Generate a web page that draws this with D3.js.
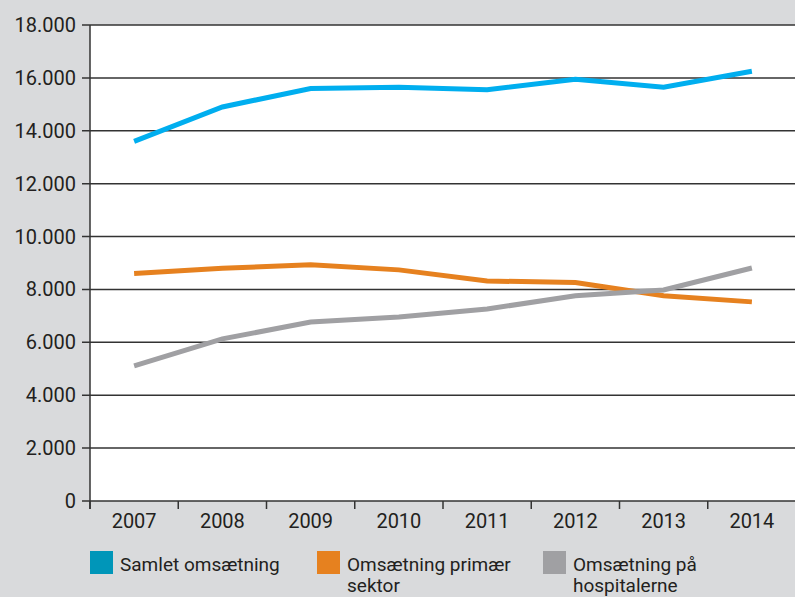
<!DOCTYPE html>
<html><head><meta charset="utf-8">
<script src="https://cdn.jsdelivr.net/npm/d3@7"></script>
<style>body{margin:0;background:#d9dadc;}svg{display:block;font-family:Roboto,"Noto Sans",sans-serif;}</style>
</head><body>
<svg id="c" width="795" height="597"></svg>
<script>
const years = ["2007","2008","2009","2010","2011","2012","2013","2014"];
const samlet = [13600,14900,15600,15650,15550,15950,15650,16250];
const primaer = [8600,8800,8930,8740,8320,8260,7760,7530];
const hospital = [5110,6130,6770,6960,7260,7760,7980,8810];
const yTicks = [0,2000,4000,6000,8000,10000,12000,14000,16000,18000];
const seriesNames = ["Samlet omsætning","Omsætning primær sektor","Omsætning på hospitalerne"];
const lineColors = ["#00aeef","#e6811f","#a0a0a3"];
const legendColors = ["#0096b9","#e6811f","#a0a0a3"];

const svg = d3.select("#c");
const L=90,R=796,T=25,B=501;
svg.append("rect").attr("x",L).attr("y",T).attr("width",R-L).attr("height",B-T).attr("fill","#fff");
const x = d3.scaleBand().domain(years).range([L,R]);
const y = d3.scaleLinear().domain([0,18000]).range([B,T]);
const fmt = v => d3.format(",")(v).replace(/,/g,".");

// gridlines + y ticks
svg.append("g").selectAll("line").data(yTicks).join("line")
  .attr("x1",L-8).attr("x2",R).attr("y1",d=>y(d)).attr("y2",d=>y(d))
  .attr("stroke","#333").attr("stroke-width",1.5);
svg.append("g").selectAll("text").data(yTicks).join("text")
  .attr("x",L-14).attr("y",d=>y(d)+7).attr("text-anchor","end")
  .attr("font-size",20).attr("fill","#231f20").text(fmt);
// y axis line
svg.append("line").attr("x1",L).attr("x2",L).attr("y1",T).attr("y2",B+8).attr("stroke","#333").attr("stroke-width",1.5);
// x ticks at band boundaries
const bounds = years.map(d=>x(d)).concat([R]);
svg.append("g").selectAll("line").data(bounds).join("line")
  .attr("x1",d=>d).attr("x2",d=>d).attr("y1",B).attr("y2",B+8)
  .attr("stroke","#333").attr("stroke-width",1.5);
svg.append("g").selectAll("text").data(years).join("text")
  .attr("x",d=>x(d)+x.bandwidth()/2).attr("y",B+27).attr("text-anchor","middle")
  .attr("font-size",20).attr("fill","#231f20").text(d=>d);

const line = d3.line().x((d,i)=>x(years[i])+x.bandwidth()/2).y(d=>y(d));
[samlet,primaer,hospital].forEach((s,i)=>{
  svg.append("path").attr("d",line(s)).attr("fill","none")
    .attr("stroke",lineColors[i]).attr("stroke-width",5);
});

// legend
const lx = [90,317,543];
const lines = [["Samlet omsætning"],["Omsætning primær","sektor"],["Omsætning på","hospitalerne"]];
lines.forEach((ls,i)=>{
  svg.append("rect").attr("x",lx[i]).attr("y",551).attr("width",23).attr("height",23).attr("fill",legendColors[i]);
  const t = svg.append("text").attr("x",lx[i]+30).attr("y",571).attr("font-size",19).attr("fill","#231f20");
  ls.forEach((s,j)=>t.append("tspan").attr("x",lx[i]+30).attr("dy",j?21:0).text(s));
});
</script>
</body></html>
